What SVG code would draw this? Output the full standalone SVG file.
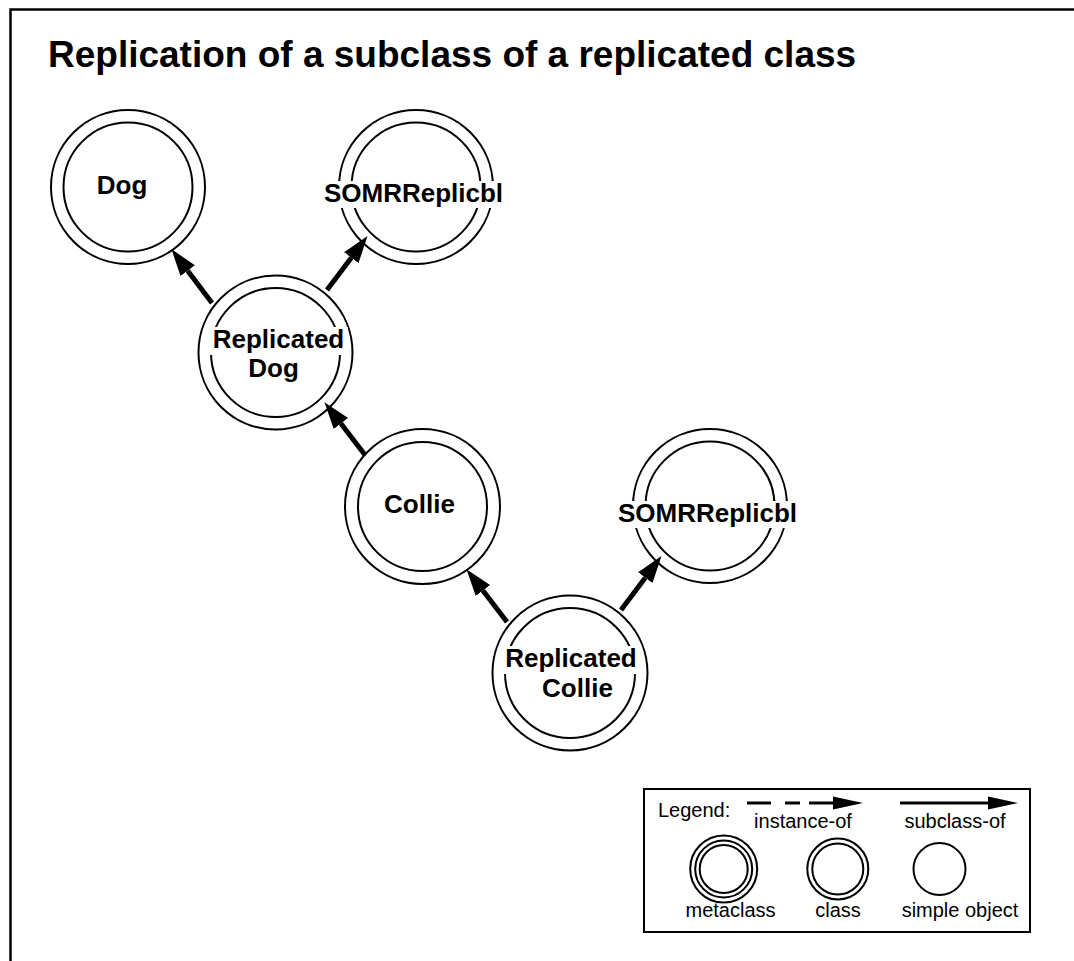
<svg xmlns="http://www.w3.org/2000/svg" width="1074" height="961" viewBox="0 0 1074 961">
<style>
.ring{fill:none;stroke:#000;stroke-width:2}
.lbl{font-family:"Liberation Sans",Arial,sans-serif;font-weight:bold;font-size:26px;fill:#000;text-anchor:middle}
.bg{fill:#fff;stroke:none}
.edge{stroke:#000;stroke-width:5;fill:none}
.leg{font-family:"Liberation Sans",Arial,sans-serif;font-size:20px;fill:#000}
.title{font-family:"Liberation Sans",Arial,sans-serif;font-weight:bold;font-size:37px;fill:#000}
</style>
<defs>
<marker id="head" markerUnits="userSpaceOnUse" markerWidth="30" markerHeight="24" viewBox="0 -12 30 24" refX="0" refY="0" orient="auto">
<path d="M0,-9 L27,0 L0,9 z" fill="#000"/>
</marker>
</defs>
<rect x="0" y="0" width="1074" height="961" fill="#fff"/>
<path d="M10.5,961 V9.5 H1074" fill="none" stroke="#000" stroke-width="2.5"/>
<text class="title" x="48" y="67">Replication of a subclass of a replicated class</text>

<g id="connectors">
<line class="edge" x1="212" y1="303" x2="187.7" y2="270.7" marker-end="url(#head)"/>
<line class="edge" x1="327" y1="290" x2="351.3" y2="257.7" marker-end="url(#head)"/>
<line class="edge" x1="365" y1="455" x2="340.9" y2="423.6" marker-end="url(#head)"/>
<line class="edge" x1="507" y1="622" x2="482.9" y2="590.6" marker-end="url(#head)"/>
<line class="edge" x1="621" y1="610" x2="645.3" y2="577.7" marker-end="url(#head)"/>
</g>

<g id="dog">
<circle class="ring" cx="128" cy="187" r="77"/>
<circle class="ring" cx="128" cy="187" r="64.5"/>
<text class="lbl" x="122" y="194">Dog</text>
</g>

<g id="somr1">
<circle class="ring" cx="416" cy="187" r="77"/>
<circle class="ring" cx="416" cy="187" r="64.5"/>
<rect class="bg" x="321" y="181" width="186" height="27"/>
<text class="lbl" x="413.5" y="202">SOMRReplicbl</text>
</g>

<g id="replicated-dog">
<circle class="ring" cx="275.5" cy="352.5" r="77"/>
<circle class="ring" cx="275.5" cy="352.5" r="64.5"/>
<rect class="bg" x="209" y="327" width="139" height="28"/>
<text class="lbl" x="278.5" y="348">Replicated</text>
<text class="lbl" x="273.5" y="377">Dog</text>
</g>

<g id="collie">
<circle class="ring" cx="422.5" cy="506.5" r="77.5"/>
<circle class="ring" cx="422.5" cy="506.5" r="64.5"/>
<text class="lbl" x="419.5" y="513">Collie</text>
</g>

<g id="somr2">
<circle class="ring" cx="710" cy="506" r="77"/>
<circle class="ring" cx="710" cy="506" r="64.5"/>
<rect class="bg" x="615" y="501" width="186" height="27"/>
<text class="lbl" x="707.5" y="522">SOMRReplicbl</text>
</g>

<g id="replicated-collie">
<circle class="ring" cx="570" cy="673" r="77.5"/>
<circle class="ring" cx="570" cy="673" r="65"/>
<rect class="bg" x="502" y="646" width="139" height="28"/>
<text class="lbl" x="571" y="667">Replicated</text>
<text class="lbl" x="577.5" y="697">Collie</text>
</g>

<g id="legend">
<rect x="644" y="789" width="386" height="143" fill="#fff" stroke="#000" stroke-width="2"/>
<text class="leg" x="658" y="817">Legend:</text>
<line x1="747" y1="803" x2="835" y2="803" stroke="#000" stroke-width="3" stroke-dasharray="24 14 15 9 40"/>
<path d="M833,796.5 L863,803 L833,809.5 z" fill="#000"/>
<text class="leg" x="803" y="828" text-anchor="middle">instance-of</text>
<line x1="900" y1="803" x2="990" y2="803" stroke="#000" stroke-width="3"/>
<path d="M988,796.5 L1018,803 L988,809.5 z" fill="#000"/>
<text class="leg" x="955" y="828" text-anchor="middle">subclass-of</text>
<circle class="ring" cx="723.7" cy="869" r="33.5"/>
<circle class="ring" cx="723.7" cy="869" r="28.5"/>
<circle class="ring" cx="723.7" cy="869" r="24"/>
<circle class="ring" cx="837.8" cy="869" r="30.5"/>
<circle class="ring" cx="837.8" cy="869" r="25.5"/>
<circle class="ring" cx="939.5" cy="869" r="26"/>
<text class="leg" x="730.5" y="917" text-anchor="middle">metaclass</text>
<text class="leg" x="838" y="917" text-anchor="middle">class</text>
<text class="leg" x="960" y="917" text-anchor="middle">simple object</text>
</g>
</svg>
